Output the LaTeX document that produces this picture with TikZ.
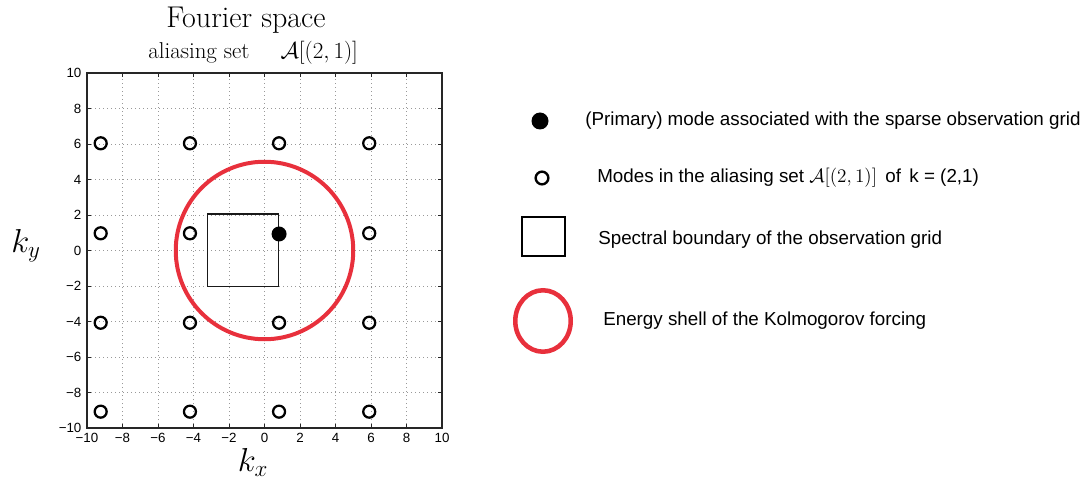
\documentclass[tikz,border=0pt]{standalone}
\usepackage{fontspec}
\newfontfamily\sansf{Liberation Sans}
\usetikzlibrary{shapes.geometric}
\definecolor{shellred}{RGB}{232,48,60}
\begin{document}
\begin{tikzpicture}[x=0.75pt,y=-0.75pt,
  openmode/.style={circle,draw=black,line width=1.7pt,minimum size=9pt,inner sep=0pt},
  primmode/.style={circle,fill=black,minimum size=11.25pt,inner sep=0pt},
  ticklab/.style={font=\sansf\fontsize{10}{11}\selectfont,inner sep=0pt},
  legtext/.style={font=\sansf\fontsize{14.1}{16}\selectfont,anchor=west,inner sep=0pt},
  gridline/.style={black!40,dash pattern=on 0.7pt off 2.3pt,line width=0.6pt},
  axisbox/.style={black!85,line width=0.8pt},
  shell/.style={draw=shellred,line width=3pt},
  bigmath/.style={font=\fontsize{23}{26}\selectfont,inner sep=0pt},
]
\useasboundingbox (0,0) rectangle (1090,481);

% ---------- plot ----------
\begin{scope}[shift={(198.375pt,-187.875pt)},x=13.3125pt,y=13.3125pt]
  \foreach \v in {-8,-6,...,8}{
    \draw[gridline] (\v,-10) -- (\v,10);
    \draw[gridline] (-10,\v) -- (10,\v);
  }
  \foreach \v in {-8,-6,...,8}{
    \draw[axisbox,line width=0.6pt] (\v,-10) -- ++(0,0.25);
    \draw[axisbox,line width=0.6pt] (\v,10) -- ++(0,-0.25);
    \draw[axisbox,line width=0.6pt] (-10,\v) -- ++(0.25,0);
    \draw[axisbox,line width=0.6pt] (10,\v) -- ++(-0.25,0);
  }
  \draw[axisbox] (-10,-10) rectangle (10,10);
  \foreach \v/\t in {-10/−10,-8/−8,-6/−6,-4/−4,-2/−2,0/0,2/2,4/4,6/6,8/8,10/10}{
    \node[ticklab,anchor=north] (xl\v) at (\v,-10.3) {\t};
    \node[ticklab,anchor=east] (yl\v) at (-10.3,\v) {\t};
  }
  % energy shell
  \node[shell,circle,minimum size=133.125pt,inner sep=0pt] (shellc) at (0,0) {};
  % spectral boundary
  \node[draw=black!90,line width=0.9pt,minimum width=53.25pt,minimum height=54.2pt,inner sep=0pt,anchor=south west] (box) at (-3.26,-2.05) {};
  % aliasing set modes
  \foreach \i/\x in {1/-9.23,2/-4.2,3/0.82,4/5.9}{
    \foreach \j/\y in {1/6.04,2/0.97,3/-4.07,4/-9.08}{
      \ifnum\i=3 \ifnum\j=2 \else
        \node[openmode] (m\i\j) at (\x,\y) {};
      \fi\else
        \node[openmode] (m\i\j) at (\x,\y) {};
      \fi
    }
  }
  \node[primmode] (prim) at (0.82,0.93) {};
\end{scope}

% ---------- titles and axis labels ----------
\node[font=\fontsize{22.5}{26}\selectfont,anchor=base,inner sep=0pt] (title) at (246,28) {Fourier space};
\node[font=\fontsize{17.2}{20}\selectfont,anchor=base west,inner sep=0pt] (sub) at (148,59) {aliasing set\hspace{1.35em}$\mathcal{A}[(2,1)]$};
\node[bigmath] (ky) at (26,246) {$k_y$};
\node[bigmath] (kx) at (253,462) {$k_x$};

% ---------- legend ----------
\node[primmode,minimum size=12.75pt] (lp) at (540,121) {};
\node[legtext] (lt1) at (585,121) {(Primary) mode associated with the sparse observation grid};
\node[openmode,minimum size=9.5pt,line width=1.8pt] (lo) at (542,178) {};
\node[legtext] (lt2) at (597,178) {Modes in the aliasing set $\mathcal{A}[(2,1)]$\, of\, k = (2,1)};
\node[draw=black,line width=1.1pt,minimum width=32.25pt,minimum height=29.25pt,inner sep=0pt] (lsq) at (543.5,236.5) {};
\node[legtext] (lt3) at (598,240) {Spectral boundary of the observation grid};
\node[shell,ellipse,line width=3.4pt,minimum width=41.6pt,minimum height=46.1pt,inner sep=0pt] (le) at (543,321) {};
\node[legtext] (lt4) at (603,321) {Energy shell of the Kolmogorov forcing};
\end{tikzpicture}
\end{document}
